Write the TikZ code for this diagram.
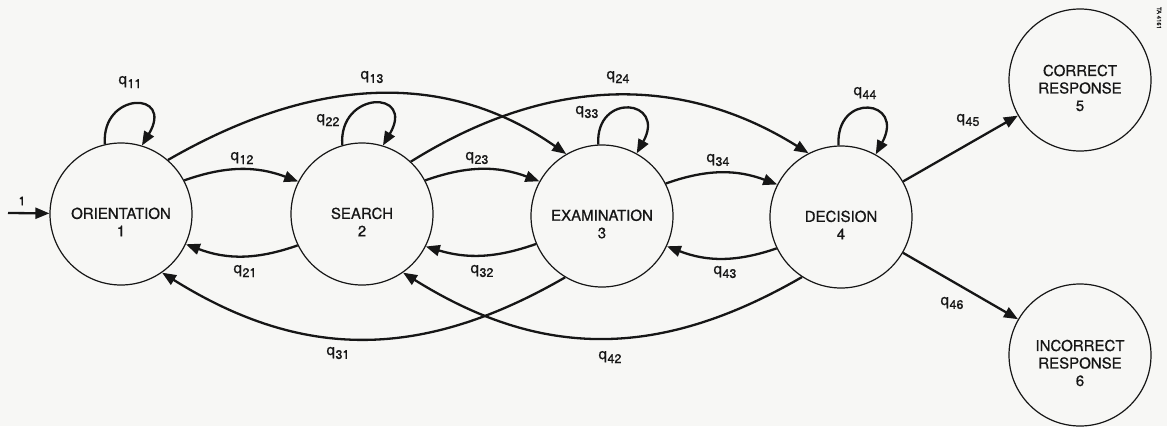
\documentclass[tikz,border=0pt]{standalone}
\usepackage{fontspec}
\setmainfont{TeX Gyre Heros}[FakeBold=0.7]
\usetikzlibrary{arrows.meta}
\definecolor{ink}{RGB}{22,22,22}
\definecolor{paper}{RGB}{247,247,245}
\newcommand{\qlab}[1]{q\kern0.6pt\raisebox{-0.5ex}{\fontsize{12.5}{12.5}\selectfont #1}}
\begin{document}
\begin{tikzpicture}[x=1pt,y=-1pt,
  state/.style={circle, draw=ink, line width=1.2pt, minimum size=142pt, inner sep=0pt},
  conn/.style={draw=ink, line width=2.3pt, -{Triangle[length=14pt,width=11pt]}},
  lab/.style={font=\fontsize{15}{15}\selectfont, text=ink, inner sep=0pt},
  stxt/.style={font=\fontsize{15}{17.5}\selectfont, align=center, text=ink, inner sep=0pt, yshift=-8pt}
]
\useasboundingbox (0,0) rectangle (1167,426);
\fill[paper] (0,0) rectangle (1167,426);

% states
\node[state, label={[stxt]center:ORIENTATION\\1}] (n1) at (121,214) {};
\node[state, label={[stxt]center:SEARCH\\2}] (n2) at (362,214) {};
\node[state, label={[stxt]center:EXAMINATION\\3}] (n3) at (602,216) {};
\node[state, label={[stxt]center:DECISION\\4}] (n4) at (841,217) {};
\node[state, label={[stxt]center:CORRECT\\RESPONSE\\5}] (n5) at (1080,80) {};
\node[state, label={[stxt]center:INCORRECT\\RESPONSE\\6}] (n6) at (1080,355) {};

% input
\coordinate (in) at (8,213);
\draw[conn] (in) -- (n1);
\node[lab, font=\fontsize{12.5}{12.5}\selectfont] (l1) at (22,201) {1};

% self loops
\draw[conn] (n1.103) .. controls +(-4,-53) and +(33,-55) .. (n1.73);
\draw[conn] (n2.106) .. controls +(-4,-55) and +(33,-56) .. (n2.73);
\draw[conn] (n3.93) .. controls +(-3,-53) and +(30,-54) .. (n3.61);
\draw[conn] (n4.92) .. controls +(-3,-54) and +(30,-55) .. (n4.61);

% neighbour arcs
\draw[conn] (n1.28) to[bend left=20] (n2.153);
\draw[conn] (n2.206) to[bend left=20] (n1.335);
\draw[conn] (n2.28) to[bend left=20] (n3.151);
\draw[conn] (n3.203) to[bend left=18] (n2.333);
\draw[conn] (n3.27) to[bend left=20] (n4.153);
\draw[conn] (n4.206) to[bend left=20] (n3.335);

% long arcs
\draw[conn] (n1.49) to[out=30,in=145] (n3.120);
\draw[conn] (n2.47) to[out=32,in=148] (n4.117);
\draw[conn] (n3.239) to[out=210,in=328,looseness=1.05] (n1.305);
\draw[conn] (n4.237) to[out=210,in=328,looseness=1.05] (n2.305);

% to responses
\draw[conn] (n4) -- (n5);
\draw[conn] (n4) -- (n6);

% labels
\node[lab] (q11) at (130,82) {\qlab{11}};
\node[lab] (q12) at (242,158) {\qlab{12}};
\node[lab] (q21) at (245,271) {\qlab{21}};
\node[lab] (q13) at (372,77) {\qlab{13}};
\node[lab] (q22) at (328,120) {\qlab{22}};
\node[lab] (q23) at (477,158) {\qlab{23}};
\node[lab] (q32) at (482,271) {\qlab{32}};
\node[lab] (q24) at (618,77) {\qlab{24}};
\node[lab] (q33) at (587,112) {\qlab{33}};
\node[lab] (q34) at (718,160) {\qlab{34}};
\node[lab] (q43) at (725,272) {\qlab{43}};
\node[lab] (q44) at (865,93) {\qlab{44}};
\node[lab] (q45) at (968,120) {\qlab{45}};
\node[lab] (q46) at (952,303) {\qlab{46}};
\node[lab] (q31) at (338,353) {\qlab{31}};
\node[lab] (q42) at (610,357) {\qlab{42}};

% figure tag
\node[font=\fontsize{6}{6}\selectfont, text=ink, rotate=-90, inner sep=0pt] (tag) at (1159,18) {TA 4161};
\end{tikzpicture}
\end{document}
